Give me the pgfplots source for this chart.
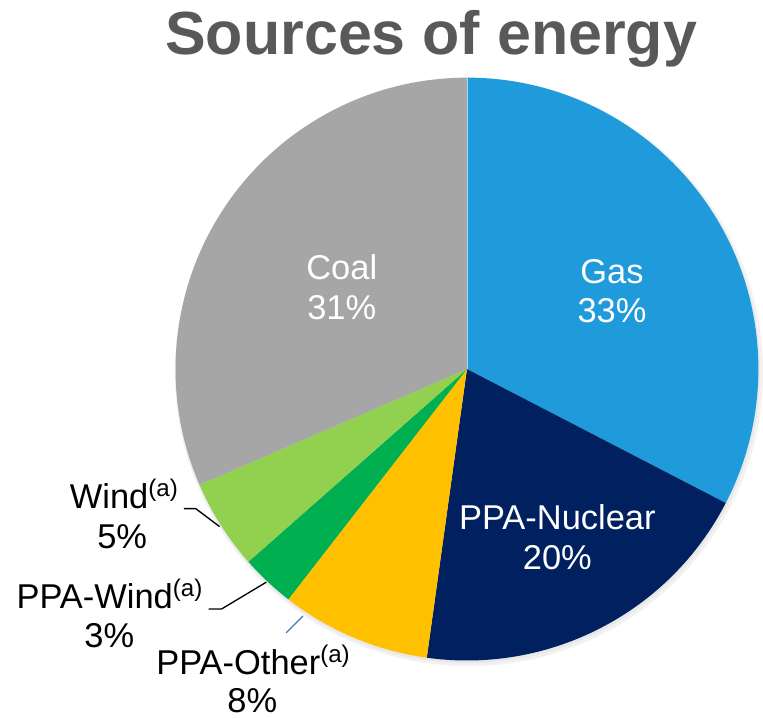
\documentclass[border=0pt]{standalone}
\usepackage{pgfplots}
\pgfplotsset{compat=1.18}
\usepackage{fontspec}
\setmainfont{Liberation Sans}
\definecolor{gasblue}{RGB}{31,154,219}
\definecolor{nuclear}{RGB}{0,32,96}
\definecolor{other}{RGB}{255,192,0}
\definecolor{ppawind}{RGB}{0,176,80}
\definecolor{wind}{RGB}{146,208,80}
\definecolor{coal}{RGB}{166,166,166}
\definecolor{titlegray}{RGB}{89,89,89}
\definecolor{leaderblue}{RGB}{68,114,196}
% Shares (percent)
\def\vGas{32.6}
\def\vNuc{19.6}
\def\vOth{8.3}
\def\vPWi{3.0}
\def\vWin{5.0}
\def\vCoa{31.5}
% slice: start angle, value, colour
\newcommand\slice[3]{%
  \fill[#3] (axis cs:470,351.5) -- ++({#1}:220pt)
    arc[start angle={#1}, delta angle={-3.6*#2}, radius=220pt] -- cycle;}
\begin{document}
\begin{tikzpicture}
\begin{axis}[
  scale only axis, width=572.25pt, height=542.25pt,
  xmin=0, xmax=763, ymin=0, ymax=723,
  hide axis, clip=false,
]
\path[fill=white] (axis cs:0,0) rectangle (axis cs:763,723);
% soft shadow
\fill[black!5] (axis cs:472,348.5) circle[radius=222pt];
\fill[black!9] (axis cs:471,349.5) circle[radius=220.5pt];
\slice{90}{\vGas}{gasblue}
\slice{90-3.6*(\vGas)}{\vNuc}{nuclear}
\slice{90-3.6*(\vGas+\vNuc)}{\vOth}{other}
\slice{90-3.6*(\vGas+\vNuc+\vOth)}{\vPWi}{ppawind}
\slice{90-3.6*(\vGas+\vNuc+\vOth+\vPWi)}{\vWin}{wind}
\slice{90-3.6*(\vGas+\vNuc+\vOth+\vPWi+\vWin)}{\vCoa}{coal}
\draw[gasblue!40!white, line width=0.9pt] (axis cs:470.5,351.5) -- (axis cs:470.5,644);
% title
\node[anchor=base, text=titlegray, font=\fontsize{46}{50}\selectfont\bfseries] at (axis cs:434,668) {Sources of energy};
% inside labels
\begin{scope}[every node/.style={anchor=base, text=white, font=\fontsize{26}{30}\selectfont}]
\node at (axis cs:344,442) {Coal};
\node at (axis cs:344,401) {31\%};
\node at (axis cs:616,438) {Gas};
\node at (axis cs:616,398) {33\%};
\node at (axis cs:561,190) {PPA-Nuclear};
\node at (axis cs:561,150) {20\%};
\end{scope}
% outside labels
\begin{scope}[every node/.style={anchor=base, text=black, font=\fontsize{26}{30}\selectfont}]
\node at (axis cs:125,211) {Wind\textsuperscript{(a)}};
\node at (axis cs:123,171) {5\%};
\node at (axis cs:110.5,111) {PPA-Wind\textsuperscript{(a)}};
\node at (axis cs:110,71) {3\%};
\node at (axis cs:255,44) {PPA-Other\textsuperscript{(a)}};
\node at (axis cs:254,6) {8\%};
\end{scope}
\draw[black, line width=1pt] (axis cs:185,211) -- (axis cs:197,211) -- (axis cs:221,193);
\draw[black, line width=1pt] (axis cs:210,110) -- (axis cs:223,110) -- (axis cs:268,137);
\draw[leaderblue, line width=1pt] (axis cs:288,86) -- (axis cs:305,103);
\end{axis}
\end{tikzpicture}
\end{document}
